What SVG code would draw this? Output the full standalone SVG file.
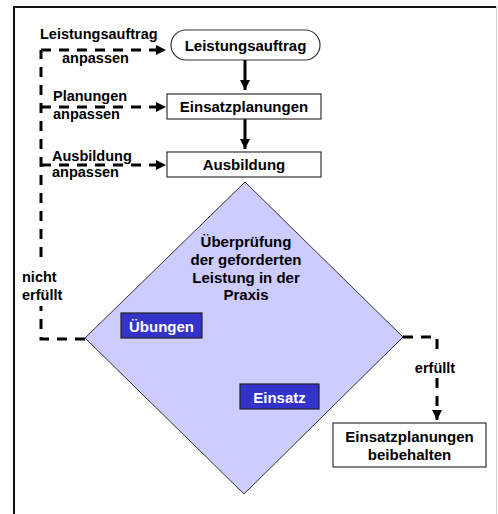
<svg xmlns="http://www.w3.org/2000/svg" width="498" height="514" viewBox="0 0 498 514">
<style>
text{font-family:"Liberation Sans",Arial,sans-serif;font-weight:bold;font-size:15px;fill:#000}
.lbl{font-size:14.5px}
.c{text-anchor:middle}
.w{fill:#fff}
.node{fill:#fff;stroke:#333;stroke-width:1.2}
.dash{fill:none;stroke:#000;stroke-width:3;stroke-dasharray:10 8}
.solid{fill:none;stroke:#000;stroke-width:3}
.tag{fill:#3333cc;stroke:#222;stroke-width:1.2}
</style>
<defs>
<marker id="ah" viewBox="0 0 10 10" refX="10" refY="5" markerWidth="13" markerHeight="10" markerUnits="userSpaceOnUse" orient="auto"><path d="M0,0 L10,5 L0,10 z" fill="#000"/></marker>
</defs>
<rect x="0" y="0" width="498" height="514" fill="#fff"/>
<g id="frame">
<line x1="13" y1="7" x2="497" y2="7" stroke="#111" stroke-width="2"/>
<line x1="14" y1="6" x2="14" y2="514" stroke="#111" stroke-width="2"/>
<line x1="496.5" y1="6" x2="496.5" y2="514" stroke="#ccc" stroke-width="1"/>
</g>
<g id="connectors">
<line class="solid" x1="245" y1="60" x2="245" y2="90" marker-end="url(#ah)"/>
<line class="solid" x1="245" y1="119" x2="245" y2="149" marker-end="url(#ah)"/>
<path class="dash" d="M85,339 H41 V50"/>
<line class="dash" x1="41" y1="50" x2="166" y2="50" marker-end="url(#ah)"/>
<line class="dash" x1="41" y1="107" x2="166" y2="107" marker-end="url(#ah)"/>
<line class="dash" x1="41" y1="165" x2="166" y2="165" marker-end="url(#ah)"/>
<path class="dash" d="M403,337 H437 V352"/>
<line class="dash" x1="437" y1="378" x2="437" y2="420" marker-end="url(#ah)"/>
<rect x="18" y="262" width="50" height="44" fill="#fff"/>
<text class="lbl" x="22" y="282">nicht</text>
<text class="lbl" x="22" y="300">erfüllt</text>
<text class="lbl" x="40" y="39">Leistungsauftrag</text>
<text class="lbl" x="62" y="63">anpassen</text>
<text class="lbl" x="53" y="101">Planungen</text>
<text class="lbl" x="53" y="119">anpassen</text>
<text class="lbl" x="52" y="161">Ausbildung</text>
<text class="lbl" x="52" y="177">anpassen</text>
<text class="lbl c" x="435" y="373">erfüllt</text>
</g>
<g id="leistungsauftrag">
<rect class="node" x="171" y="30" width="149" height="30" rx="15" ry="15"/>
<text class="c" x="245.5" y="51">Leistungsauftrag</text>
</g>
<g id="einsatzplanungen">
<rect class="node" x="167" y="94" width="154" height="25"/>
<text class="c" x="244" y="112">Einsatzplanungen</text>
</g>
<g id="ausbildung">
<rect class="node" x="167" y="152" width="154" height="25"/>
<text class="c" x="244" y="169.5">Ausbildung</text>
</g>
<g id="ueberpruefung">
<polygon points="245,182 403,337 244,494 85,338" fill="#ccccff" stroke="#333" stroke-width="1"/>
<text class="c" x="246" y="247">Überprüfung</text>
<text class="c" x="246" y="265">der geforderten</text>
<text class="c" x="246" y="283">Leistung in der</text>
<text class="c" x="246" y="300">Praxis</text>
</g>
<g id="uebungen">
<rect class="tag" x="121" y="313" width="81" height="25"/>
<text class="c w" x="161.5" y="331.5">Übungen</text>
</g>
<g id="einsatz">
<rect class="tag" x="240" y="384" width="79" height="25"/>
<text class="c w" x="279.5" y="402.5">Einsatz</text>
</g>
<g id="beibehalten">
<rect class="node" x="333" y="423" width="153" height="44"/>
<text class="c" x="409.5" y="442">Einsatzplanungen</text>
<text class="c" x="409.5" y="460">beibehalten</text>
</g>
</svg>
